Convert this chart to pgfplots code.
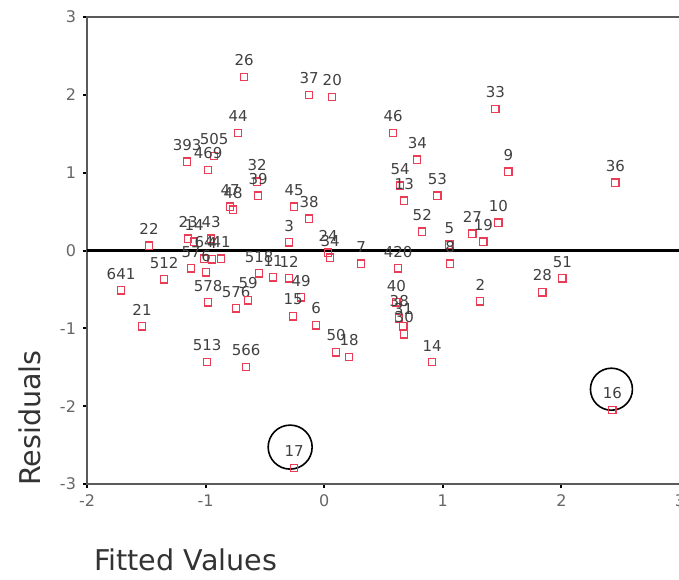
\documentclass[border=0pt]{standalone}
\usepackage{fontspec}
\setmainfont{DejaVu Sans}
\usepackage{pgfplots}
\pgfplotsset{compat=1.18}
\definecolor{mk}{RGB}{235,60,85}
\definecolor{axc}{RGB}{90,90,90}
\begin{document}
\begin{tikzpicture}
\begin{axis}[
 scale only axis, width=296.5pt, height=233.5pt,
 xmin=-2, xmax=3, ymin=-3, ymax=3,
 xtick={-2,-1,0,1,2,3}, xticklabels={-2,-1,0,1,2,3},
 ytick={-3,-2,-1,0,1,2,3}, yticklabels={-3,-2,-1,0,1,2,3},
 tick pos=left, tick align=outside, major tick length=2pt,
 tick style={black, line width=1pt},
 axis line style={axc, line width=1pt},
 ticklabel style={font=\fontsize{8}{9}\selectfont, text=black!60},
 xlabel={Fitted Values}, ylabel={Residuals},
 label style={font=\fontsize{14.3}{16}\selectfont, text=black!80},
 xlabel style={at={(axis description cs:0,-0.163)}, anchor=west},
 ylabel style={at={(axis description cs:-0.096,0.141)}, anchor=center},
 clip=false,
]
\addplot[black, line width=1.6pt] coordinates {(-2,0) (3,0)};
\addplot[only marks, mark=square, mark size=1.8pt, color=mk, mark options={draw=mk, fill=white, line width=0.6pt},
  nodes near coords, point meta=explicit symbolic,
  every node near coord/.style={anchor=south, yshift=4.3pt, inner sep=1pt,
     font=\fontsize{7.5}{8}\selectfont, text=black!75}]
 table[meta=lab] {
x y lab
-0.675 2.231 26
-0.127 2.000 37
0.068 1.974 20
-0.726 1.513 44
-1.156 1.141 393
-0.928 1.218 505
-0.979 1.038 469
0.582 1.513 46
0.785 1.167 34
1.443 1.821 33
1.553 1.013 9
2.456 0.872 36
0.641 0.833 54
0.675 0.641 13
0.954 0.705 53
0.827 0.244 52
1.055 0.077 5
1.063 -0.167 8
1.249 0.218 27
1.342 0.115 19
1.468 0.359 10
-1.713 -0.513 641
-1.536 -0.974 21
-1.350 -0.372 512
-1.477 0.064 22
-1.148 0.154 23
-1.097 0.115 14
-0.954 0.154 43
-1.013 -0.103 64
-0.945 -0.115 4
-0.869 -0.103 41
-1.122 -0.231 57
-0.996 -0.282 6
-0.979 -0.667 578
-0.743 -0.744 576
-0.641 -0.641 59
-0.987 -1.436 513
-0.658 -1.500 566
-0.549 -0.295 518
-0.430 -0.346 11
-0.295 -0.359 12
-0.194 -0.603 49
-0.262 -0.846 15
-0.068 -0.962 6
0.101 -1.308 50
0.211 -1.372 18
0.034 -0.026 24
0.051 -0.090 34
0.312 -0.167 7
0.624 -0.231 420
0.608 -0.667 40
0.633 -0.872 38
0.667 -0.974 31
0.675 -1.077 30
0.911 -1.436 14
1.316 -0.654 2
1.840 -0.538 28
2.008 -0.359 51
2.430 -2.051 16
-0.253 -2.795 17
-0.565 0.885 32
-0.557 0.705 39
-0.793 0.564 47
-0.768 0.526 48
-0.253 0.564 45
-0.127 0.410 38
-0.295 0.103 3
};
\draw[black, line width=0.8pt] (axis cs:-0.287,-2.526) circle[radius=11pt];
\draw[black, line width=0.8pt] (axis cs:2.422,-1.782) circle[radius=10.5pt];
\end{axis}
\pgfresetboundingbox
\path (-43.5pt,-47.5pt) rectangle (296pt,242pt);
\end{tikzpicture}
\end{document}
